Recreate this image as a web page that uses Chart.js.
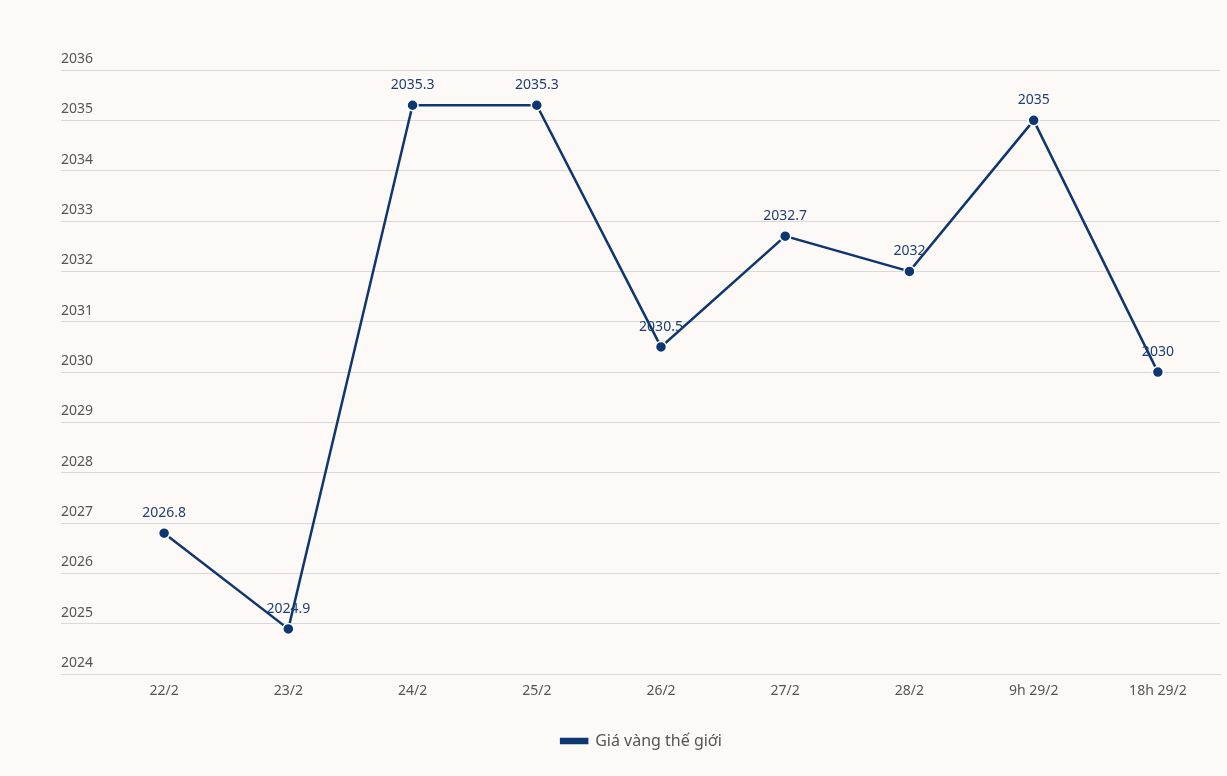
<!DOCTYPE html>
<html>
<head>
<meta charset="utf-8">
<script src="https://cdn.jsdelivr.net/npm/chart.js@4"></script>
<style>
  html, body { margin: 0; padding: 0; background: #fdf9f6; }
  #wrap { width: 1227px; height: 776px; }
</style>
</head>
<body>
<div id="wrap"><canvas id="gold"></canvas></div>
<script>
const labels = ['22/2', '23/2', '24/2', '25/2', '26/2', '27/2', '28/2', '9h 29/2', '18h 29/2'];
const giaVang = [2026.8, 2024.9, 2035.3, 2035.3, 2030.5, 2032.7, 2032, 2035, 2030];
const seriesName = 'Giá vàng thế giới';

const lineColor = '#0e3670';

// value labels above each point
const valueLabels = {
    id: 'valueLabels',
    afterDatasetsDraw(chart) {
        const ctx = chart.ctx;
        const meta = chart.getDatasetMeta(0);
        const data = chart.data.datasets[0].data;
        ctx.save();
        ctx.font = '14px "Noto Sans"';
        ctx.fillStyle = '#1d3f73';
        ctx.textAlign = 'center';
        ctx.textBaseline = 'middle';
        meta.data.forEach((pt, i) => {
            ctx.fillText(String(data[i]), pt.x, pt.y - 20);
        });
        ctx.restore();
    }
};

const config = {
    type: 'line',
    data: {
        labels: labels,
        datasets: [{
            label: seriesName,
            data: giaVang,
            borderColor: lineColor,
            backgroundColor: lineColor,
            borderWidth: 2.5,
            pointRadius: 5.5,
            pointBorderWidth: 1.5,
            pointBorderColor: '#ffffff',
            pointBackgroundColor: lineColor,
            tension: 0
        }]
    },
    options: {
        responsive: true,
        maintainAspectRatio: false,
        animation: false,
        layout: {
            padding: { left: 61, right: 5, top: 70, bottom: 17 }
        },
        plugins: {
            tooltip: { enabled: false },
            legend: {
                position: 'bottom',
                labels: {
                    boxWidth: 26,
                    boxHeight: 4,
                    padding: 14,
                    color: '#555555',
                    font: { family: '"Noto Sans"', size: 16 }
                }
            }
        },
        scales: {
            x: {
                offset: true,
                afterFit(scale) { scale.height += 12; },
                grid: { display: false, drawTicks: false },
                border: { display: true, color: '#d8d8d8' },
                ticks: {
                    color: '#555555',
                    padding: 8,
                    font: { family: '"Noto Sans"', size: 14 }
                }
            },
            y: {
                min: 2024,
                max: 2036,
                afterFit(scale) { scale.width = 41; },
                grid: { color: '#d8d8d8', tickLength: 41, tickColor: '#d8d8d8' },
                border: { display: false },
                ticks: {
                    stepSize: 1,
                    crossAlign: 'far',
                    labelOffset: -11,
                    color: '#555555',
                    font: { family: '"Noto Sans"', size: 14 },
                    callback: (v) => String(v)
                }
            }
        }
    },
    plugins: [valueLabels]
};
const chart = new Chart(document.getElementById('gold'), config);
</script>
</body>
</html>
